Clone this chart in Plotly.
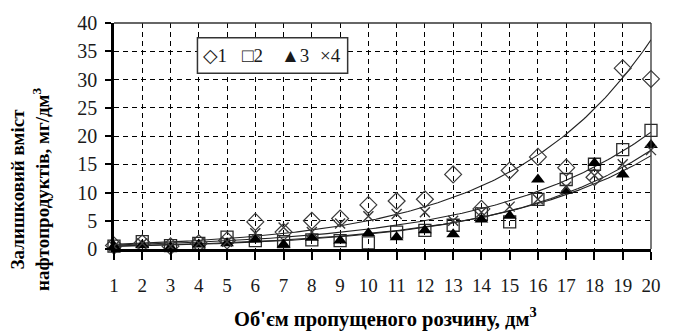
import numpy as np
import plotly.graph_objects as go

# Volume of passed solution, dm3 (category positions on the x axis)
volume = list(range(1, 21))
tick_labels = [str(v) for v in volume]
y_ticks = [0, 5, 10, 15, 20, 25, 30, 35, 40]

# Residual oil product content, mg/dm3, for the four experiments
series1 = [0.6, 1.0, 0.5, 1.0, 1.5, 4.8, 3.0, 5.0, 5.4, 7.8,
           8.5, 8.8, 13.2, 7.1, 13.9, 16.3, 14.4, 12.7, 32.0, 30.1]
series2 = [0.5, 1.3, 0.6, 1.0, 2.1, 1.5, 1.3, 1.6, 1.5, 1.1,
           3.0, 3.3, 4.2, 6.2, 4.8, 8.8, 12.3, 15.0, 17.6, 21.0]
series3 = [0.5, 0.7, 0.3, 0.8, 1.0, 1.7, 0.8, 2.0, 1.5, 2.8,
           2.1, 3.3, 2.6, 5.2, 5.9, 12.3, 10.3, 15.2, 13.2, 18.4]
series4 = [0.5, 1.0, 0.5, 1.0, 1.3, 2.8, 3.8, 3.0, 4.5, 5.8,
           6.2, 6.5, 5.0, 6.5, 7.5, 8.8, 11.0, 13.0, 15.0, 17.5]
series_names = ["1", "2", "3", "4"]
legend_symbols = ["◇", "□", "▲", "×"]

# Exponential trend lines y = a * exp(b * x)
trend_a = [0.678, 0.600, 0.391, 0.451]
trend_b = [0.200, 0.177, 0.190, 0.180]

markers = [
    dict(symbol="diamond-open", size=13, color="#3a3a3a", line=dict(width=1.2)),
    dict(symbol="square-open", size=12, color="#2a2a2a", line=dict(width=1.3)),
    dict(symbol="triangle-up", size=12, color="#000000"),
    dict(symbol="x-thin-open", size=10, color="#3a3a3a", line=dict(width=1.4)),
]

SERIF = "Liberation Serif, Times New Roman, serif"

fig = go.Figure()

x_fine = np.linspace(volume[0], volume[-1], 200)
for a, b in zip(trend_a, trend_b):
    fig.add_trace(go.Scatter(
        x=x_fine, y=a * np.exp(b * x_fine), mode="lines",
        line=dict(color="#222222", width=1.1),
        showlegend=False, hoverinfo="skip", cliponaxis=False,
    ))

for name, values, mk in zip(series_names, [series1, series2, series3, series4], markers):
    fig.add_trace(go.Scatter(
        x=volume, y=values, mode="markers", name=name,
        marker=mk, showlegend=False, cliponaxis=False,
    ))

grid = dict(showgrid=True, gridcolor="#000000", gridwidth=1.4, griddash="5px,4px")

fig.update_xaxes(
    range=[volume[0], volume[-1]], tickvals=volume, ticktext=tick_labels,
    ticks="outside", ticklen=8, tickwidth=2, tickcolor="#000000",
    showline=True, linecolor="#000000", linewidth=2.5,
    tickfont=dict(family=SERIF, size=19, color="#1a1a1a"),
    ticklabelstandoff=9, zeroline=False, **grid,
)
fig.update_yaxes(
    range=[0, 40], tickvals=y_ticks,
    ticks="outside", ticklen=6, tickwidth=2, tickcolor="#000000",
    showline=True, linecolor="#000000", linewidth=2.5,
    tickfont=dict(family=SERIF, size=20, color="#1a1a1a"),
    ticklabelstandoff=4, zeroline=False, **grid,
)

# thin frame on the top and right sides of the plot area
fig.add_shape(type="line", xref="paper", yref="paper", x0=0, x1=1, y0=1, y1=1,
              line=dict(color="#333333", width=1.3))
fig.add_shape(type="line", xref="paper", yref="paper", x0=1, x1=1, y0=0, y1=1,
              line=dict(color="#333333", width=1.3))

# legend box with its four entries
fig.add_shape(type="rect", xref="paper", yref="paper",
              x0=0.1554, x1=0.4351, y0=0.778, y1=0.935,
              line=dict(color="#333333", width=1.5), fillcolor="#ffffff")
legend_x = [0.1627, 0.2340, 0.3070, 0.3800]
for xpos, s, n in zip(legend_x, legend_symbols, series_names):
    fig.add_annotation(
        xref="paper", yref="paper", x=xpos, y=0.857, xanchor="left", yanchor="middle",
        text=s + n, showarrow=False,
        font=dict(family=SERIF + ", DejaVu Sans", size=19, color="#1a1a1a"),
    )

# axis titles
fig.add_annotation(
    xref="paper", yref="paper", x=-0.156, y=0.262, xanchor="center", yanchor="middle",
    text="<b>Залишковий вміст<br>нафтопродуктів, мг/дм<sup>3</sup></b>",
    textangle=-90, showarrow=False,
    font=dict(family=SERIF, size=19, color="#000000"),
)
fig.add_annotation(
    xref="paper", yref="paper", x=0.505, y=-0.305, xanchor="center", yanchor="middle",
    text="<b>Об'єм пропущеного розчину, дм<sup>3</sup></b>",
    showarrow=False,
    font=dict(family=SERIF, size=20.5, color="#000000"),
)

fig.update_layout(
    width=673, height=334,
    margin=dict(l=114, r=12, t=19, b=85),
    paper_bgcolor="#ffffff", plot_bgcolor="#ffffff",
    showlegend=False,
)

fig.write_html("out.html")
